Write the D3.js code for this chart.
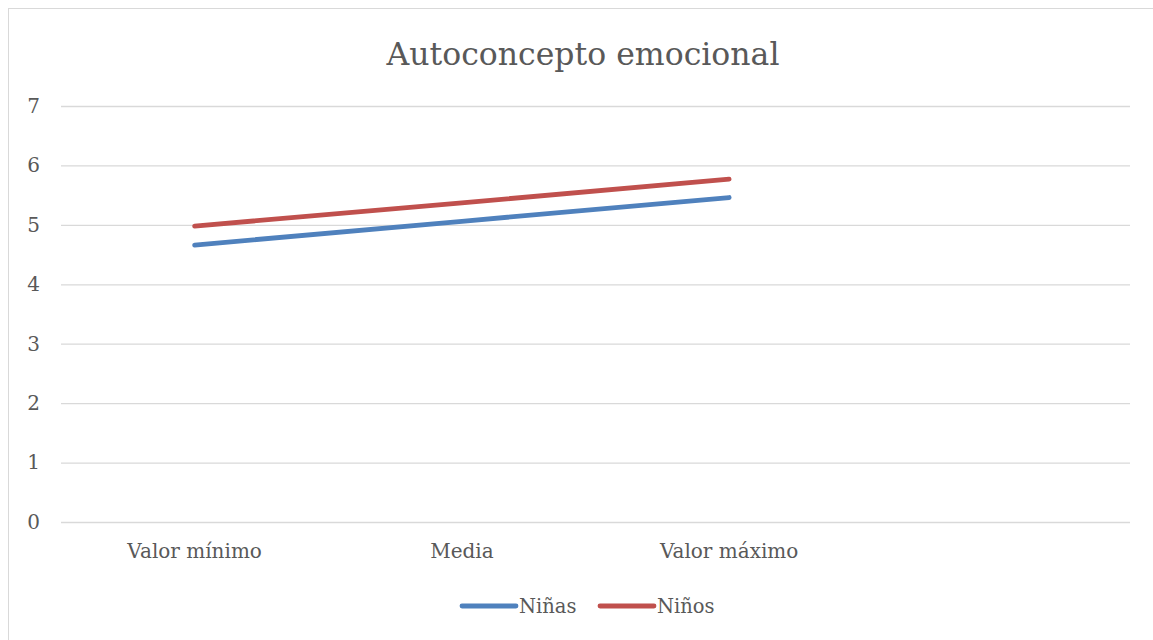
<!DOCTYPE html>
<html>
<head>
<meta charset="utf-8">
<script src="https://cdn.jsdelivr.net/npm/d3@7"></script>
<style>
  body { margin: 0; background: #fff; }
  text { font-family: "DejaVu Serif", serif; fill: #595959; }
</style>
</head>
<body>
<svg id="chart" width="1153" height="640"></svg>
<script>
// data
var categories = ["Valor mínimo", "Media", "Valor máximo", ""]
var seriesNames = ["Niñas", "Niños"]
var ninas = [4.66, 5.06, 5.46]
var ninos = [4.98, 5.37, 5.77]
var yTicks = [0, 1, 2, 3, 4, 5, 6, 7]
var colors = ["#4f81bd", "#c0504d"]

var svg = d3.select("#chart")

// outer chart frame
svg.append("rect")
  .attr("x", 8.5).attr("y", 8.5)
  .attr("width", 1160).attr("height", 700)
  .attr("fill", "none")
  .attr("stroke", "#d9d9d9")

var margin = {top: 106, left: 61, right: 23, bottom: 118}
var width = 1153 - margin.left - margin.right
var height = 640 - margin.top - margin.bottom

var x = d3.scaleBand()
  .domain(categories.map(function(d, i) { return i }))
  .range([0, width])

var y = d3.scaleLinear()
  .domain([0, 7])
  .range([height, 0])

var main = svg.append("g")
  .attr("transform", "translate(" + margin.left + "," + margin.top + ")")

// gridlines + y labels
var yAxis = d3.axisLeft(y).tickValues(yTicks).tickSize(-width).tickPadding(21)
  .tickFormat(d3.format("d"))
var yg = main.append("g").call(yAxis)
yg.select(".domain").remove()
yg.selectAll(".tick line").attr("stroke", "#d9d9d9").attr("stroke-width", 1.3)
yg.selectAll(".tick text").attr("font-size", "20px").attr("fill", "#595959")
  .style("font-family", "DejaVu Serif")

// x labels
var xAxis = d3.axisBottom(x).tickSize(0).tickPadding(22)
  .tickFormat(function(i) { return categories[i] })
var xg = main.append("g")
  .attr("transform", "translate(0," + height + ")")
  .call(xAxis)
xg.select(".domain").remove()
xg.selectAll(".tick text").attr("font-size", "20px").attr("fill", "#595959")
  .style("font-family", "DejaVu Serif")

// lines
var line = d3.line()
  .x(function(d, i) { return x(i) + x.bandwidth() / 2 })
  .y(function(d) { return y(d) })

;[ninas, ninos].forEach(function(s, k) {
  main.append("path")
    .datum(s)
    .attr("d", line)
    .attr("fill", "none")
    .attr("stroke", colors[k])
    .attr("stroke-width", 4.8)
    .attr("stroke-linecap", "round")
})

// title
svg.append("text")
  .attr("x", 583).attr("y", 65)
  .attr("text-anchor", "middle")
  .attr("font-size", "31.5px")
  .text("Autoconcepto emocional")

// legend
var legX = [460, 598]
seriesNames.forEach(function(n, k) {
  var g = svg.append("g").attr("transform", "translate(" + legX[k] + ",606)")
  g.append("line")
    .attr("x1", 2).attr("x2", 56)
    .attr("stroke", colors[k]).attr("stroke-width", 4.8)
    .attr("stroke-linecap", "round")
  g.append("text")
    .attr("x", 59).attr("y", 7)
    .attr("font-size", "19.5px")
    .text(n)
})
</script>
</body>
</html>
